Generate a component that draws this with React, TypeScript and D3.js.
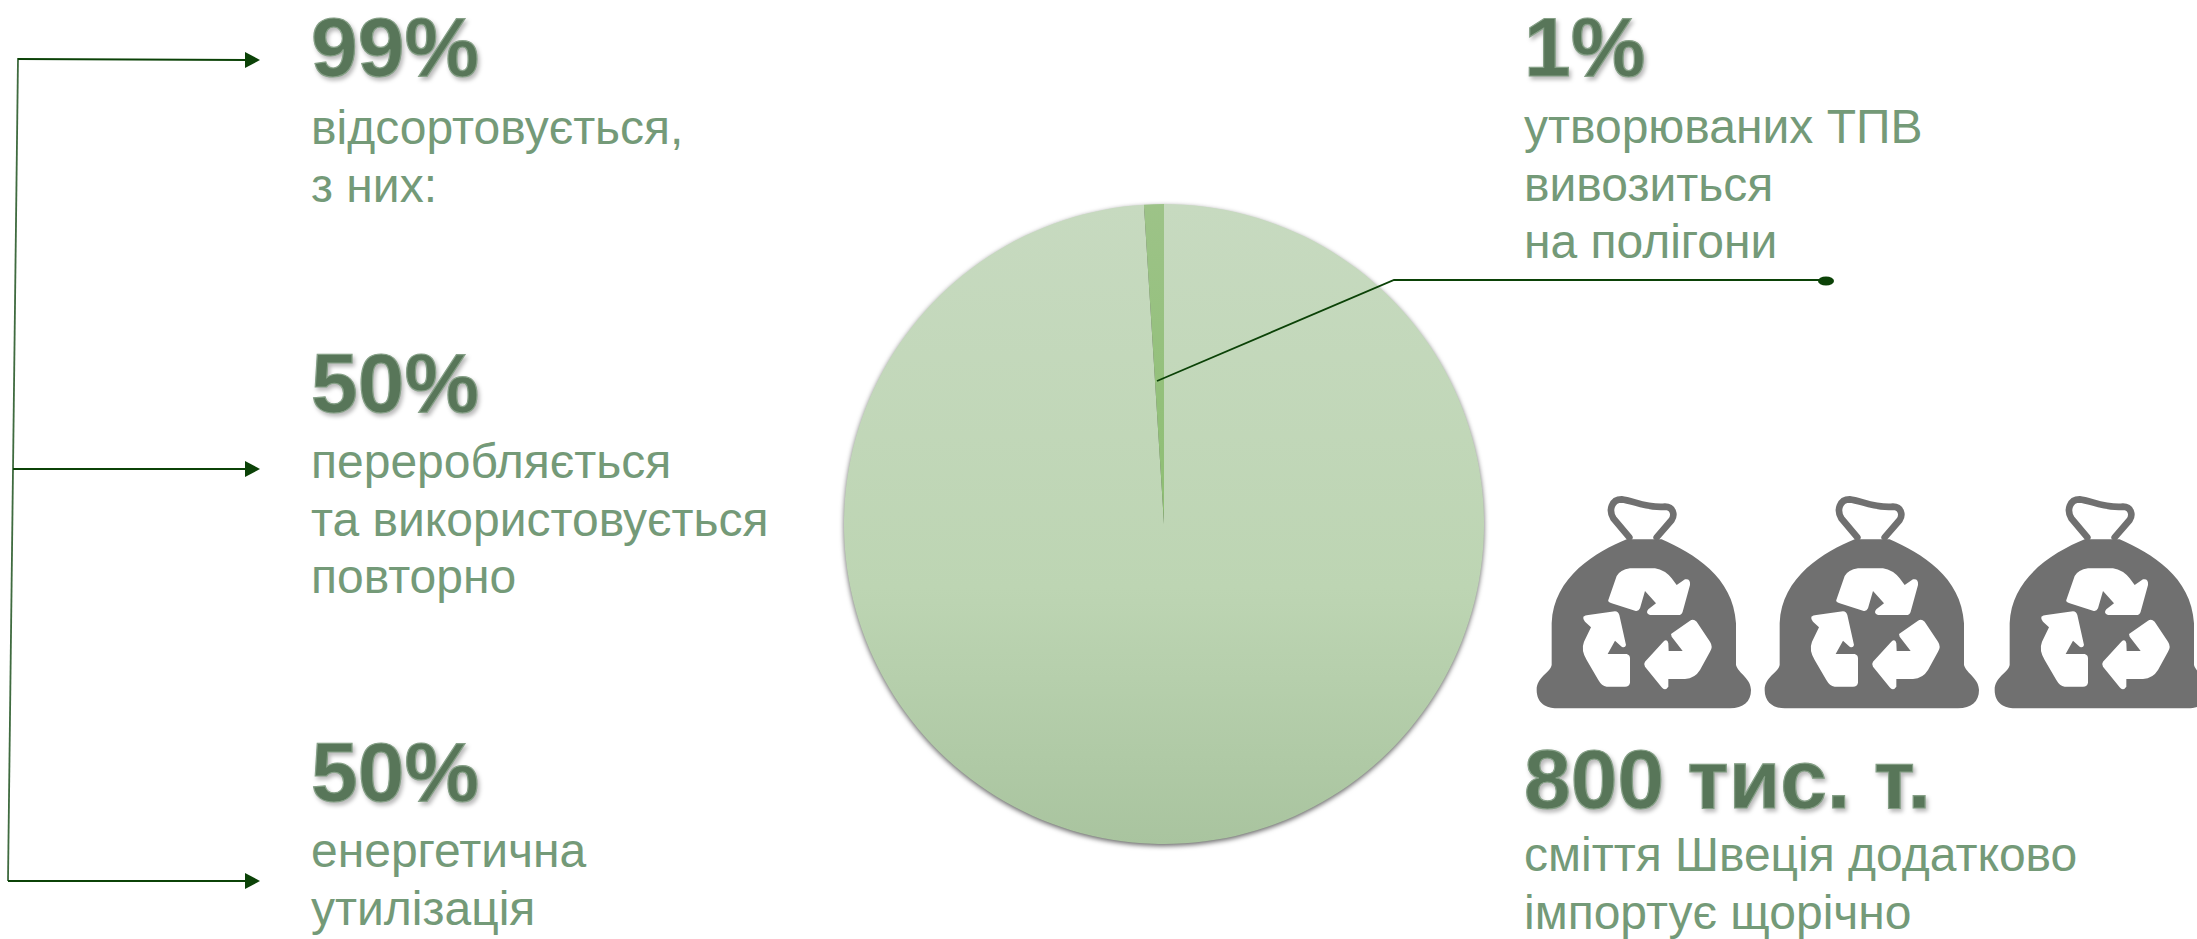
import React from "react";
import * as d3 from "d3";

const sliceNames = ["відсортовується", "вивозиться на полігони"];
const sliceValues = [99, 1];

const bigLabels = ["99%", "50%", "50%", "1%", "800 тис. т."];
const bigAnchors: [number, number][] = [[311, 76], [311, 412], [311, 801], [1524, 76], [1524, 808]];
const bodyLines = [
  ["відсортовується,", "з них:"],
  ["переробляється", "та використовується", "повторно"],
  ["енергетична", "утилізація"],
  ["утворюваних ТПВ", "вивозиться", "на полігони"],
  ["сміття Швеція додатково", "імпортує щорічно"],
];
const bodyAnchors: [number, number][] = [[311, 144], [311, 478], [311, 867], [1524, 143], [1524, 871]];

const bagOffsets = [0, 228, 458];
const arrowRows = [[18, 59, 60], [13, 469, 469], [8, 881, 881]];

const W = 2197, H = 939;
const cx = 1164, cy = 524, R = 320;

const bagBody = "M290,148 C200,185 70,260 65,400 L65,525 C60,550 20,560 20,600 C20,640 50,655 80,655 L600,655 C640,655 663,635 663,600 C663,565 625,550 618,525 L618,400 C610,260 490,190 395,148 Z";
const bagHandle = "M298,142 L250,85 C235,60 245,28 275,28 C310,32 350,55 405,50 C430,50 435,75 425,90 L380,142";
const recycle = [
  "M235,330 L260,258 Q270,240 300,235 L375,235 Q405,240 425,265 L440,285 L465,268 Q482,265 480,285 L458,365 Q455,375 445,375 L360,375 Q345,370 355,358 L378,340 L345,303 L330,355 Q325,365 315,362 L245,340 Q232,335 235,330 Z",
  "M160,380 Q165,375 175,375 L255,364 Q265,365 268,375 L288,465 Q285,475 275,470 L255,452 L233,492 L290,492 Q300,495 300,505 L300,578 Q298,590 285,590 L230,590 Q215,588 205,570 L170,510 Q152,480 162,455 L183,412 L165,395 Q158,388 160,380 Z",
  "M423,432 L480,392 Q490,385 500,395 L540,455 Q550,470 540,485 L510,540 Q495,565 465,567 L415,567 L415,590 Q405,605 395,592 L345,530 Q340,522 345,515 L400,455 Q412,445 415,460 L416,483 L458,483 L425,440 Z",
];

const font = "'Liberation Sans', Arial, sans-serif";

export default function App() {
  const pie = d3.pie<number>().sort(null).value((d) => d);
  const arc = d3.arc<d3.PieArcDatum<number>>().innerRadius(0).outerRadius(R);
  const arcs = pie(sliceValues);
  const line = d3.line();

  return (
    <svg width={W} height={H} viewBox={`0 0 ${W} ${H}`} style={{ position: "fixed", left: 0, top: 0, background: "#fff" }} fontFamily={font}>
      <defs>
        <linearGradient id="large" gradientUnits="userSpaceOnUse" x1={0} x2={0} y1={-R} y2={R}>
          <stop offset="0" stopColor="#C7DAC0" />
          <stop offset="0.6" stopColor="#BDD5B3" />
          <stop offset="1" stopColor="#A9C49F" />
        </linearGradient>
        <linearGradient id="small" gradientUnits="userSpaceOnUse" x1={0} x2={0} y1={-R} y2={0}>
          <stop offset="0" stopColor="#9DC388" />
          <stop offset="1" stopColor="#8DBE72" />
        </linearGradient>
      </defs>

      <g transform={`translate(${cx},${cy})`} style={{ filter: "drop-shadow(0px 2px 2.5px rgba(0,0,0,0.6))" }}>
        {arcs.map((a, i) => (
          <path key={sliceNames[i]} d={arc(a) ?? ""} fill={i === 0 ? "url(#large)" : "url(#small)"} />
        ))}
      </g>

      <path d={line([[1157, 381], [1394, 280], [1826, 280]]) ?? ""} fill="none" stroke="#0B4207" strokeWidth={1.8} />
      <ellipse cx={1826} cy={281} rx={8} ry={4.5} fill="#0B4207" />

      <path d={line([[18, 58], [8, 881]]) ?? ""} fill="none" stroke="#3F6B3F" strokeWidth={1.8} />
      {arrowRows.map(([x0, y0, y1]) => (
        <g key={y0}>
          <path d={line([[x0, y0], [246, y1]]) ?? ""} fill="none" stroke="#0B4207" strokeWidth={2} />
          <path d={`M245,${y1 - 8}L260,${y1}L245,${y1 + 8}Z`} fill="#0B4207" />
        </g>
      ))}

      {bagOffsets.map((dx) => (
        <g key={dx} transform={`translate(${1530 + dx},490) scale(${1 / 3})`}>
          <path d={bagBody} fill="#707070" />
          <path d={bagHandle} fill="none" stroke="#707070" strokeWidth={20} strokeLinejoin="round" strokeLinecap="round" />
          {recycle.map((p) => <path key={p} d={p} fill="#fff" />)}
        </g>
      ))}

      {bigLabels.map((t, i) => (
        <text key={i} x={bigAnchors[i][0]} y={bigAnchors[i][1]} fontSize={84} fontWeight={700} fill="#587659"
          stroke="#86A087" strokeWidth={1.2} style={{ filter: "drop-shadow(2px 3px 2px rgba(0,0,0,0.28))" }}>
          {t}
        </text>
      ))}

      {bodyLines.map((ls, i) => ls.map((t, j) => (
        <text key={`${i}-${j}`} x={bodyAnchors[i][0]} y={bodyAnchors[i][1] + j * 57.7} fontSize={48} fill="#749A78">
          {t}
        </text>
      )))}
    </svg>
  );
}
